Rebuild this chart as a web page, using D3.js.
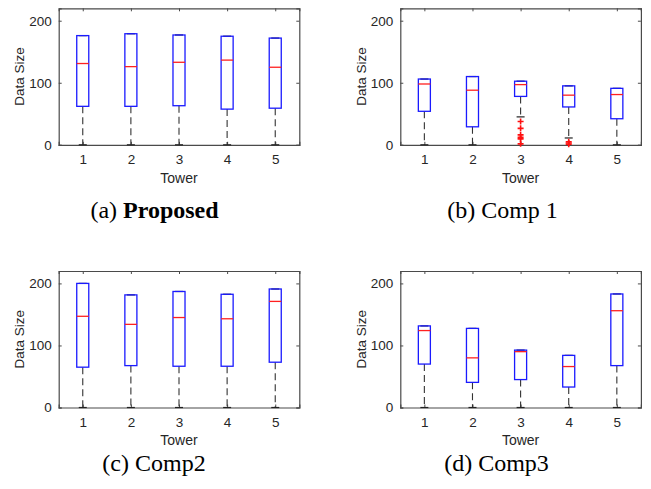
<!DOCTYPE html>
<html>
<head>
<meta charset="utf-8">
<script src="https://cdn.jsdelivr.net/npm/d3@7"></script>
<style>
  body { margin: 0; background: #fff; }
  svg text { font-family: "Liberation Sans", Arial, sans-serif; fill: #262626; }
  .caption { font-family: "Liberation Serif", "Times New Roman", serif; fill: #000; }
</style>
</head>
<body>
<svg id="chart" width="651" height="489"></svg>
<script>
// towers on the x axis
const towers = [1, 2, 3, 4, 5];
const yTicks = [0, 100, 200];

// box stats per tower: [lower whisker, q1, median, q3, upper whisker]
const proposed = [
  [0, 62, 131, 176, 176],
  [0, 62, 126, 179, 179],
  [0, 63, 133, 177, 177],
  [0, 57.5, 136.5, 175, 175],
  [0, 59, 125, 172, 172]
];
const comp1 = [
  [0, 54, 98, 106, 106],
  [0, 29, 88, 110, 110],
  [45, 78, 97, 102.5, 102.5],
  [11, 61, 80, 95, 95],
  [0, 42, 81, 91, 91]
];
const comp1Outliers = [[], [], [37.5, 26.5, 16, 12, 9.5, 1.5], [5, 3, 1], []];
const comp2 = [
  [0, 65, 147, 200, 200],
  [0, 67.5, 134, 181.5, 181.5],
  [0, 66.5, 145, 187, 187],
  [0, 66.5, 143, 182.5, 182.5],
  [0, 73, 171, 191, 191]
];
const comp3 = [
  [0, 70, 124, 131.5, 131.5],
  [0, 40.5, 80, 127.5, 127.5],
  [0, 45, 90, 92.5, 92.5],
  [0, 33, 66, 84, 84],
  [0, 67.5, 156, 183, 183]
];

const panels = [
  { stats: proposed, outliers: null, x: 58.7, y: 8.3, capX: 154.5, capY: 218, label: 'a', name: 'Proposed', bold: true },
  { stats: comp1, outliers: comp1Outliers, x: 400.3, y: 8.3, capX: 502.5, capY: 218, label: 'b', name: 'Comp 1', bold: false },
  { stats: comp2, outliers: null, x: 58.7, y: 271, capX: 154, capY: 471, label: 'c', name: 'Comp2', bold: false },
  { stats: comp3, outliers: null, x: 400.3, y: 271, capX: 496.5, capY: 471, label: 'd', name: 'Comp3', bold: false }
];

const svg = d3.select('#chart');
const width = 240.6, height = 136.5;

panels.forEach(p => {
  const g = svg.append('g').attr('transform', 'translate(' + p.x + ',' + p.y + ')');

  const x = d3.scaleLinear().domain([0.5, 5.5]).range([0, width]);
  const y = d3.scaleLinear().domain([0, 220]).range([height, 0]);
  const boxW = x(1.25) - x(1);
  const capW = x(1.125) - x(1);

  // axes (ticks inside, box around)
  const axisCol = '#4a4a4a';
  const bottom = g.append('g').attr('transform', 'translate(0,' + height + ')')
    .call(d3.axisBottom(x).tickValues(towers).tickSize(-3).tickPadding(10).tickFormat(d3.format('d')));
  const top = g.append('g').call(d3.axisTop(x).tickValues(towers).tickSize(-3).tickFormat(''));
  const left = g.append('g')
    .call(d3.axisLeft(y).tickValues(yTicks).tickSize(-3).tickPadding(7));
  const right = g.append('g').attr('transform', 'translate(' + width + ',0)')
    .call(d3.axisRight(y).tickValues(yTicks).tickSize(-3).tickFormat(''));
  [bottom, top, left, right].forEach(a => {
    a.select('.domain').attr('stroke', axisCol).attr('stroke-width', 1.2);
    a.selectAll('.tick line').attr('stroke', axisCol);
    a.selectAll('text').attr('font-size', '13.5px').attr('fill', '#262626')
      .style('font-family', '"Liberation Sans", Arial, sans-serif');
  });

  // boxes
  p.stats.forEach((s, i) => {
    const cx = x(towers[i]);
    // whiskers
    [[s[1], s[0]], [s[3], s[4]]].forEach(w => {
      g.append('line')
        .attr('x1', cx).attr('x2', cx)
        .attr('y1', y(w[0])).attr('y2', y(w[1]))
        .attr('stroke', '#333').attr('stroke-width', 1.1)
        .attr('stroke-dasharray', '7,4');
    });
    // caps
    [s[0], s[4]].forEach(v => {
      g.append('line')
        .attr('x1', cx - capW / 2 - 1).attr('x2', cx + capW / 2 + 1)
        .attr('y1', y(v)).attr('y2', y(v))
        .attr('stroke', '#222').attr('stroke-width', 1.2);
    });
    // box
    g.append('rect')
      .attr('x', cx - boxW / 2).attr('y', y(s[3]))
      .attr('width', boxW).attr('height', y(s[1]) - y(s[3]))
      .attr('fill', 'none').attr('stroke', '#1a1aff').attr('stroke-width', 1.3);
    // median
    g.append('line')
      .attr('x1', cx - boxW / 2).attr('x2', cx + boxW / 2)
      .attr('y1', y(s[2])).attr('y2', y(s[2]))
      .attr('stroke', '#ff2020').attr('stroke-width', 1.3);
    // outliers
    if (p.outliers) {
      p.outliers[i].forEach(v => {
        g.append('path')
          .attr('d', 'M' + (cx - 3) + ',' + y(v) + 'h6M' + cx + ',' + (y(v) - 3) + 'v6')
          .attr('stroke', '#ff1010').attr('stroke-width', 1.6);
      });
    }
  });

  // axis labels
  g.append('text')
    .attr('transform', 'translate(-39,' + (height / 2) + ') rotate(-90)')
    .attr('text-anchor', 'middle').attr('dy', '0.35em')
    .attr('font-size', '13.5px')
    .text('Data Size');
  g.append('text')
    .attr('x', width / 2).attr('y', height + 33)
    .attr('text-anchor', 'middle').attr('dy', '0.35em')
    .attr('font-size', '14px')
    .text('Tower');

  // caption
  const cap = svg.append('text')
    .attr('class', 'caption')
    .attr('x', p.capX).attr('y', p.capY)
    .attr('text-anchor', 'middle')
    .attr('font-size', '24px');
  cap.append('tspan').text('(' + p.label + ') ');
  cap.append('tspan').attr('font-weight', p.bold ? 'bold' : 'normal').text(p.name);
});
</script>
</body>
</html>
